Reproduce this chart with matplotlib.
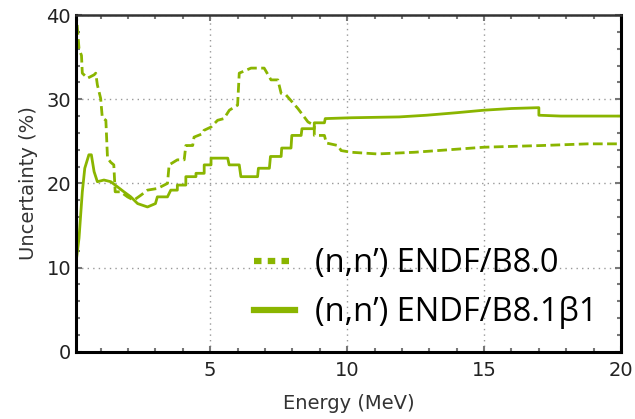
import matplotlib
matplotlib.use("Agg")
import matplotlib.pyplot as plt
from matplotlib.ticker import MultipleLocator

# ============================================
# DATA  (energy in MeV, uncertainty in %)
# ============================================

e_b80 = [0.10, 0.21, 0.30, 0.33, 0.52, 0.76, 0.82, 0.88, 1.00, 1.06, 1.19,
         1.25, 1.37, 1.48, 1.53, 1.73, 1.98, 2.21, 2.47, 2.71, 3.08, 3.44,
         3.50, 3.80, 4.05, 4.11, 4.36, 4.41, 4.72, 4.77, 5.03, 5.27, 5.50,
         5.70, 6.00, 6.06, 6.49, 6.97, 7.22, 7.47, 7.59, 7.77, 8.20, 8.57,
         8.80, 8.80, 9.17, 9.24, 9.66, 9.78, 10.15, 11.1, 12.46, 15.0,
         17.1, 18.8, 20.0]
u_b80 = [40.5, 36.0, 35.2, 33.1, 32.5, 32.9, 33.1, 31.7, 30.1, 27.8, 27.5,
         23.0, 22.5, 22.2, 19.0, 19.0, 18.4, 18.0, 18.6, 19.2, 19.4, 20.0,
         22.2, 22.8, 22.8, 24.5, 24.5, 25.5, 25.9, 26.3, 26.7, 27.5, 27.7,
         28.7, 29.3, 33.1, 33.7, 33.7, 32.3, 32.3, 30.7, 30.5, 28.9, 27.3,
         26.9, 25.7, 25.7, 24.8, 24.5, 23.9, 23.7, 23.5, 23.7, 24.3,
         24.5, 24.7, 24.7]

e_b81 = [0.12, 0.21, 0.33, 0.42, 0.57, 0.66, 0.76, 0.88, 1.12, 1.37, 1.61,
         1.85, 2.10, 2.35, 2.71, 3.00, 3.07, 3.44, 3.56, 3.80, 3.80, 4.11,
         4.11, 4.48, 4.48, 4.78, 4.78, 5.03, 5.03, 5.64, 5.69, 6.06, 6.12,
         6.73, 6.76, 7.16, 7.20, 7.59, 7.61, 7.95, 7.98, 8.32, 8.35, 8.80,
         8.80, 9.17, 9.20, 10.15, 11.9, 12.9, 14.0, 15.0, 16.0, 17.0,
         17.0, 17.8, 20.0]
u_b81 = [11.1, 13.5, 19.0, 21.8, 23.4, 23.4, 21.4, 20.2, 20.4, 20.2, 19.6,
         19.0, 18.4, 17.6, 17.2, 17.6, 18.4, 18.4, 19.2, 19.2, 19.8, 19.8,
         20.8, 20.8, 21.2, 21.2, 22.2, 22.2, 23.0, 23.0, 22.2, 22.2, 20.8,
         20.8, 21.8, 21.8, 23.2, 23.2, 24.2, 24.2, 25.7, 25.7, 26.5, 26.5,
         27.2, 27.2, 27.7, 27.8, 27.9, 28.1, 28.4, 28.7, 28.9, 29.0,
         28.1, 28.0, 28.0]

labels = ["(n,n\u2019) ENDF/B8.0", "(n,n\u2019) ENDF/B8.1\u03b21"]

COLOR = "#8ab500"

# ============================================
# PLOT
# ============================================

fig = plt.figure(figsize=(6.35, 4.19), dpi=100)
ax = fig.add_axes([0.1197, 0.1606, 0.8583, 0.8034])

ax.plot(e_b80, u_b80, color=COLOR, lw=2.0, linestyle=(0, (3.5, 1.6)),
        label=labels[0])
ax.plot(e_b81, u_b81, color=COLOR, lw=2.0, label=labels[1])

ax.set_xlim(0.1, 20)
ax.set_ylim(0, 40)

ax.xaxis.set_major_locator(MultipleLocator(5))
ax.xaxis.set_minor_locator(MultipleLocator(1))
ax.yaxis.set_major_locator(MultipleLocator(10))
ax.yaxis.set_minor_locator(MultipleLocator(2))

ax.tick_params(which="both", direction="in", top=True, right=True,
               color="#777777", width=1.5, labelsize=14, labelcolor="#222222")
ax.tick_params(which="major", length=4)
ax.tick_params(which="minor", length=3)
ax.tick_params(axis="x", pad=7)

ax.grid(True, which="major", linestyle=(0, (1, 3)), color="#999999", lw=1)

for side in ["left", "bottom", "right"]:
    ax.spines[side].set_linewidth(2.2)
    ax.spines[side].set_color("black")
ax.spines["top"].set_linewidth(1.8)
ax.spines["top"].set_color("#333333")

ax.set_xlabel("Energy (MeV)", fontsize=14, color="#333333", labelpad=10)
ax.set_ylabel("Uncertainty (%)", fontsize=14, color="#333333", labelpad=6)

leg = ax.legend(loc="lower right", frameon=False, handlelength=1.25,
                handletextpad=0.6, labelspacing=0.48,
                prop={"family": "Open Sans", "size": 23.5},
                bbox_to_anchor=(1.01, -0.02))
leg.legend_handles[0].set_linewidth(4.5)
leg.legend_handles[0].set_linestyle((0, (1.2, 1.0)))
leg.legend_handles[1].set_linewidth(4.5)

fig.savefig("out.png", dpi=100)
